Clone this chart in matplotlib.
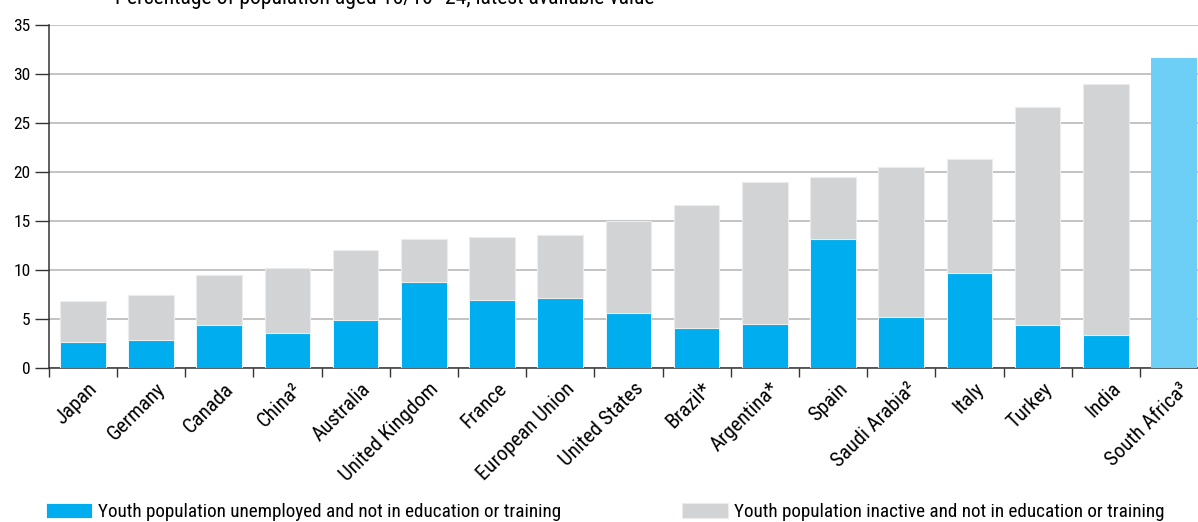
import matplotlib
matplotlib.use("Agg")
import matplotlib.pyplot as plt
import numpy as np
from matplotlib import font_manager
from matplotlib.transforms import ScaledTranslation

countries = ["Japan", "Germany", "Canada", "China²", "Australia", "United Kingdom",
             "France", "European Union", "United States", "Brazil*", "Argentina*",
             "Spain", "Saudi Arabia²", "Italy", "Turkey", "India", "South Africa³"]
unemployed = [2.65, 2.9, 4.4, 3.6, 4.95, 8.8, 7.0, 7.15, 5.65, 4.15, 4.55,
              13.2, 5.25, 9.75, 4.4, 3.4, 0.0]
total = [6.9, 7.5, 9.5, 10.2, 12.1, 13.2, 13.4, 13.6, 15.0, 16.7, 19.0,
         19.55, 20.5, 21.35, 26.65, 29.0, 31.65]
yticks = [0, 5, 10, 15, 20, 25, 30, 35]
subtitle = "Percentage of population aged 15/16–24, latest available value"
legend_labels = ["Youth population unemployed and not in education or training",
                 "Youth population inactive and not in education or training"]

# --- pick a condensed font if any is installed
cands = []
for f in font_manager.fontManager.ttflist:
    nm = f.name + " " + f.fname
    if f.style != "normal":
        continue
    w = f.weight if isinstance(f.weight, int) else 400
    if w != 400:
        continue
    narrow = ("Narrow" in nm or "Condensed" in nm or "condensed" in str(f.stretch))
    if narrow and "Bold" not in f.fname and "Oblique" not in f.fname and "Italic" not in f.fname:
        pref = 9
        for i, key in enumerate(["Roboto", "Liberation", "Open", "Noto", "DejaVu"]):
            if key in nm:
                pref = i
                break
        cands.append((pref, f))
cands.sort(key=lambda t: t[0])
if cands:
    FP = dict(fname=cands[0][1].fname)
else:
    FP = dict(family="DejaVu Sans")


def fp(size):
    return font_manager.FontProperties(size=size, **FP)


BLUE = "#00AEEF"
GRAY = "#D1D3D4"
LIGHT = "#6DCFF6"

fig = plt.figure(figsize=(11.98, 5.22), dpi=100)
renderer = fig.canvas.get_renderer()


def fit_size(text, target_px, base=12.0):
    t = fig.text(0, 0, text, fontproperties=fp(base))
    w = t.get_window_extent(renderer=renderer).width
    t.remove()
    return base * target_px / w


leg_size = fit_size(legend_labels[0], 466)
tick_size = fit_size("United Kingdom", 130)
sub_size = fit_size(subtitle, 540)
ytick_size = 12.5

ax = fig.add_axes([48.75 / 1198, 0.2944, (17 * 68.2) / 1198, 0.6571])

x = np.arange(len(countries))
unemp = np.array(unemployed)
tot = np.array(total)
inactive = tot - unemp
n = len(countries)
split = np.arange(n) < n - 1

b1 = ax.bar(x[split], unemp[split], width=0.67, color=BLUE, zorder=3,
            edgecolor="white", linewidth=0.6)
b2 = ax.bar(x[split], inactive[split], bottom=unemp[split], width=0.67, color=GRAY,
            zorder=3, edgecolor="#ECECEC", linewidth=0.8)
ax.bar(x[~split], tot[~split], width=0.67, color=LIGHT, zorder=3, linewidth=0)

ax.set_xlim(-0.5, n - 0.5)
ax.set_ylim(0, 35)
ax.set_yticks(yticks)
ax.set_yticklabels([str(v) for v in yticks], fontproperties=fp(ytick_size))
ax.yaxis.grid(True, color="#B3B3B3", linewidth=1.1, zorder=0)
ax.set_axisbelow(True)

ax.set_xticks(np.arange(n + 1) - 0.5)
ax.set_xticklabels([])
ax.tick_params(axis="x", which="major", length=6.5, width=1, color="#333333", direction="out")
ax.tick_params(axis="y", length=10, width=1, color="#333333", pad=3)

# category labels, rotated, anchored at their top-right corner below each bar
lab_tr = ax.get_xaxis_transform() + ScaledTranslation(5 / 100, -11 / 100, fig.dpi_scale_trans)
for xi, name in zip(x, countries):
    ax.text(xi, 0, name, transform=lab_tr, rotation=45, rotation_mode="anchor",
            ha="right", va="top", fontproperties=fp(tick_size), clip_on=False)

for s in ["top", "right"]:
    ax.spines[s].set_visible(False)
for s in ["left", "bottom"]:
    ax.spines[s].set_color("#333333")
    ax.spines[s].set_linewidth(1.1)

fig.text(115 / 1198, 1 - 4 / 522, subtitle, fontproperties=fp(sub_size),
         va="baseline", ha="left")

fs_px = leg_size * 100 / 72
common = dict(frameon=False, prop=fp(leg_size), handlelength=46 / fs_px,
              handleheight=16 / fs_px, handletextpad=6 / fs_px,
              borderaxespad=0, borderpad=0, loc="center left")
l1 = fig.legend([b1], [legend_labels[0]], bbox_to_anchor=(46 / 1198, 1 - 512 / 522), **common)
l2 = fig.legend([b2], [legend_labels[1]], bbox_to_anchor=(682 / 1198, 1 - 512 / 522), **common)

fig.savefig("out.png", dpi=100)
